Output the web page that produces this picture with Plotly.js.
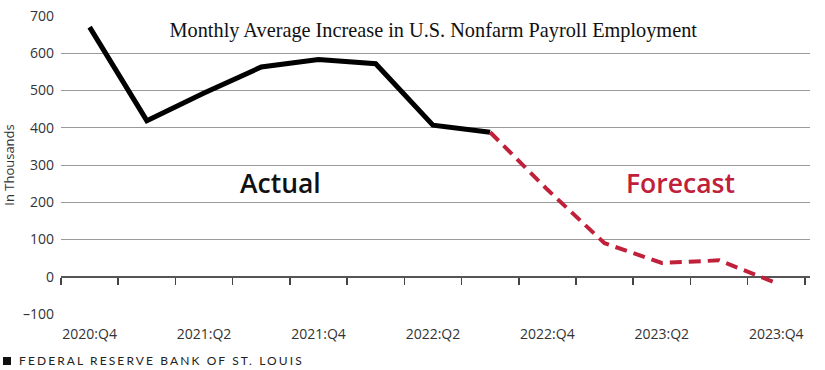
<!DOCTYPE html>
<html>
<head>
<meta charset="utf-8">
<script src="https://cdn.plot.ly/plotly-3.0.1.min.js"></script>
<style>
  html, body { margin: 0; padding: 0; background: #fff; }
  #wrap { position: relative; width: 825px; height: 370px; }
  #chart { width: 825px; height: 370px; }
  #footer { position: absolute; left: 3px; top: 353px; font-family: "Lato", "Open Sans", sans-serif; font-size: 12px; letter-spacing: 2.1px; color: #222; white-space: nowrap; }
  #footer span.sq { display: inline-block; width: 8px; height: 8px; background: #111; margin-right: 8px; vertical-align: 0px; }
</style>
</head>
<body>
<div id="wrap">
  <div id="chart"></div>
  <div id="footer"><span class="sq"></span>FEDERAL RESERVE BANK OF ST. LOUIS</div>
</div>
<script>
const categories = ['2020:Q4','2021:Q1','2021:Q2','2021:Q3','2021:Q4','2022:Q1','2022:Q2','2022:Q3','2022:Q4','2023:Q1','2023:Q2','2023:Q3','2023:Q4'];
const actualCategories = categories.slice(0, 8);
const actualValues = [670, 419, 493, 563, 583, 572, 407, 388];
const forecastCategories = categories.slice(7);
const forecastValues = [388, 234, 90, 37, 44, -17];
const tickLabels = categories.filter((c, i) => i % 2 === 0);
const yTicks = [-100, 0, 100, 200, 300, 400, 500, 600, 700];

const axisFont = { family: 'Open Sans, sans-serif', size: 14, color: '#333' };

const traces = [
  { x: actualCategories, y: actualValues, type: 'scatter', mode: 'lines',
    line: { color: '#000', width: 5 }, hoverinfo: 'skip', showlegend: false },
  { x: forecastCategories, y: forecastValues, type: 'scatter', mode: 'lines',
    line: { color: '#c0203a', width: 4, dash: '12px,7px' }, hoverinfo: 'skip', showlegend: false },
  { x: categories, y: categories.map(() => null), type: 'scatter', mode: 'lines',
    xaxis: 'x2', hoverinfo: 'skip', showlegend: false }
];

const layout = {
  width: 825, height: 370,
  margin: { l: 61, r: 15, t: 16, b: 56 },
  paper_bgcolor: '#fff', plot_bgcolor: '#fff',
  showlegend: false,
  title: { text: 'Monthly Average Increase in U.S. Nonfarm Payroll Employment',
    font: { family: 'Liberation Serif, Times New Roman, serif', size: 20.3, color: '#111' },
    xref: 'paper', x: 0.497, xanchor: 'center', yref: 'container', y: 0.919, yanchor: 'middle' },
  xaxis: {
    type: 'category', categoryorder: 'array', categoryarray: categories,
    range: [-0.5, 12.59], showgrid: false, zeroline: false, showline: false,
    ticks: '', tickvals: tickLabels, ticktext: tickLabels, tickfont: axisFont,
    ticklabelstandoff: 10, fixedrange: true
  },
  xaxis2: {
    type: 'category', categoryorder: 'array', categoryarray: categories,
    range: [-0.5, 12.59], overlaying: 'x', anchor: 'free', position: 0.125, side: 'bottom',
    showgrid: false, zeroline: false, showline: false, showticklabels: false,
    ticks: 'outside', tickson: 'boundaries', ticklen: 7, tickwidth: 1.5, tickcolor: '#444',
    tickvals: categories
  },
  yaxis: {
    range: [-100, 700], tickvals: yTicks, ticktext: yTicks.map(v => v < 0 ? '–' + Math.abs(v) : String(v)),
    showgrid: true, gridcolor: '#9a9a9a', gridwidth: 1,
    zeroline: true, zerolinecolor: '#555', zerolinewidth: 1.6,
    showline: false, ticks: '', tickfont: axisFont, ticklabelstandoff: 6,
    title: { text: 'In Thousands', font: { family: 'Open Sans, sans-serif', size: 13, color: '#333' }, standoff: 6 }
  },
  annotations: [
    { text: 'Actual', xref: 'paper', yref: 'paper', x: 0.293, y: 0.44, xanchor: 'center', yanchor: 'middle',
      showarrow: false, font: { family: 'Open Sans, sans-serif', size: 26.5, color: '#111', weight: 600 } },
    { text: 'Forecast', xref: 'paper', yref: 'paper', x: 0.827, y: 0.44, xanchor: 'center', yanchor: 'middle',
      showarrow: false, font: { family: 'Open Sans, sans-serif', size: 26.5, color: '#c0203a', weight: 600 } }
  ]
};

Plotly.newPlot('chart', traces, layout, { displayModeBar: false, staticPlot: true });
</script>
</body>
</html>
